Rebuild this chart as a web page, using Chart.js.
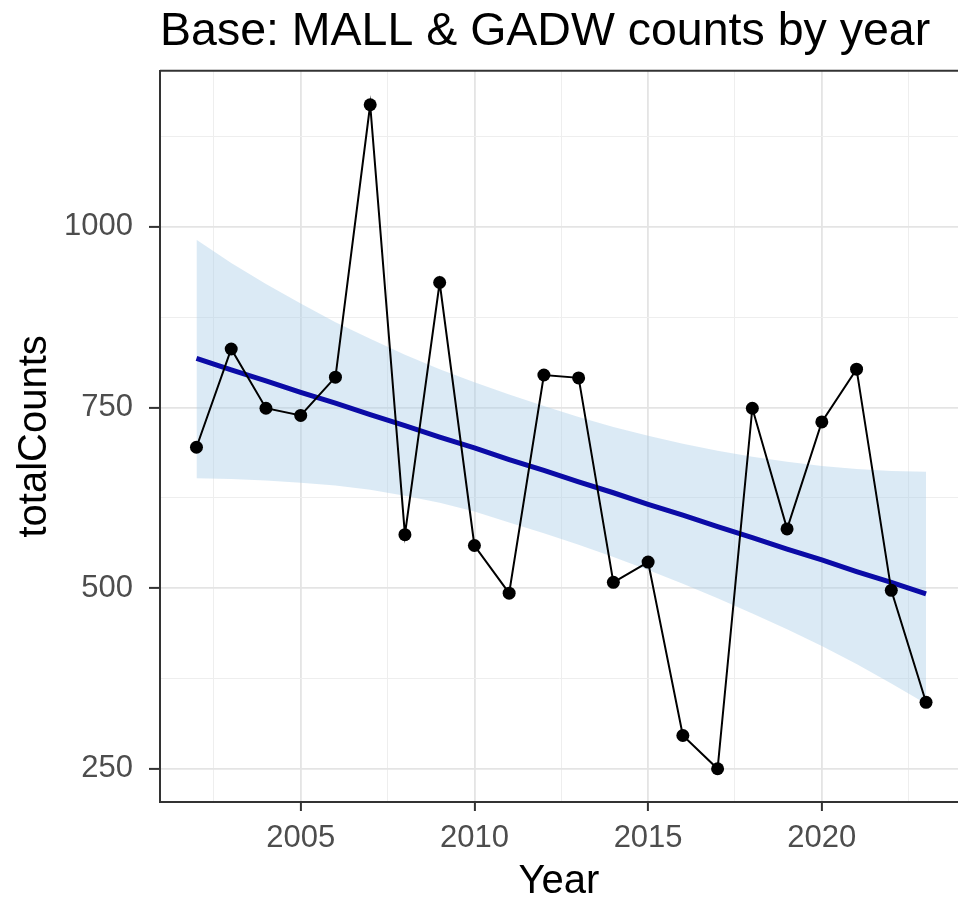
<!DOCTYPE html>
<html lang="en">
<head>
  <meta charset="UTF-8" />
  <title>Base: MALL &amp; GADW counts by year</title>
  <script src="https://cdn.jsdelivr.net/npm/chart.js"></script>
  <style>
    html, body { margin: 0; padding: 0; background: #fff; overflow: hidden; }
    #wrap { width: 958px; height: 904px; }
  </style>
</head>
<body>
<div id="wrap"><canvas id="chart" width="958" height="904"></canvas></div>

<script>
  // values
  const years = [2002, 2003, 2004, 2005, 2006, 2007, 2008, 2009, 2010, 2011, 2012,
                 2013, 2014, 2015, 2016, 2017, 2018, 2019, 2020, 2021, 2022, 2023];
  const totalCounts = [695, 831, 749, 739, 792, 1169, 574, 923, 559, 493, 795,
                       791, 508, 536, 296, 250, 749, 582, 730, 803, 497, 342];
  const trendFit = [818, 802, 787, 771, 756, 740, 725, 709, 694, 678, 663,
                    647, 632, 616, 601, 585, 570, 554, 539, 523, 508, 492];
  const bandUpper = [982, 950, 921, 894, 868, 845, 823, 803, 785, 768, 752,
                     737, 723, 711, 700, 690, 682, 675, 669, 665, 662, 661];
  const bandLower = [652, 651, 649, 646, 642, 636, 628, 618, 606, 591, 576,
                     560, 543, 525, 506, 486, 465, 443, 420, 395, 368, 340];
  const xTickLabels = [2005, 2010, 2015, 2020];
  const xGridValues = [2002.5, 2005, 2007.5, 2010, 2012.5, 2015, 2017.5, 2020, 2022.5];
  const yTickLabels = [250, 500, 750, 1000];
  const yGridValues = [250, 375, 500, 625, 750, 875, 1000, 1125];

  const toPts = vals => years.map((yr, i) => ({ x: yr, y: vals[i] }));

  const FONT = "'Liberation Sans', Arial, sans-serif";
  const AXIS_DARK = '#333333';
  const TICK_TEXT = '#4d4d4d';

  const isMajor = (v, list) => list.some(t => Math.abs(t - v) < 1e-6);
  const gridColor = list => ctx => isMajor(ctx.tick.value, list) ? '#e4e4e4' : '#eeeeee';
  const gridWidth = list => ctx => isMajor(ctx.tick.value, list) ? 1.8 : 1;
  const tickMarkColor = list => ctx => isMajor(ctx.tick.value, list) ? AXIS_DARK : 'rgba(0,0,0,0)';

  // top edge of the panel (R draws the full panel border)
  const topBorder = {
    id: 'topBorder',
    afterDraw(chart) {
      const { ctx, chartArea } = chart;
      ctx.save();
      ctx.strokeStyle = AXIS_DARK;
      ctx.lineWidth = 2;
      ctx.beginPath();
      ctx.moveTo(chartArea.left, chartArea.top);
      ctx.lineTo(chartArea.right, chartArea.top);
      ctx.stroke();
      ctx.restore();
    }
  };

  new Chart(document.getElementById('chart'), {
    type: 'line',
    data: {
      datasets: [
        {
          label: 'totalCounts',
          data: toPts(totalCounts),
          borderColor: '#000',
          borderWidth: 2,
          backgroundColor: '#000',
          pointRadius: 6.5,
          pointBorderWidth: 0,
          tension: 0,
          order: 0
        },
        {
          label: 'fit',
          data: toPts(trendFit),
          borderColor: '#0b0ba6',
          borderWidth: 5,
          pointRadius: 0,
          tension: 0,
          order: 1
        },
        {
          label: 'upper',
          data: toPts(bandUpper),
          borderWidth: 0,
          borderColor: 'rgba(0,0,0,0)',
          backgroundColor: 'rgba(170,205,230,0.42)',
          pointRadius: 0,
          fill: '+1',
          order: 2
        },
        {
          label: 'lower',
          data: toPts(bandLower),
          borderWidth: 0,
          borderColor: 'rgba(0,0,0,0)',
          pointRadius: 0,
          fill: false,
          order: 3
        }
      ]
    },
    options: {
      responsive: false,
      animation: false,
      devicePixelRatio: 1,
      layout: { padding: 0, autoPadding: false },
      plugins: {
        legend: { display: false },
        tooltip: { enabled: false },
        title: {
          display: true,
          text: 'Base: MALL & GADW counts by year',
          align: 'start',
          fullSize: false,
          color: '#000',
          font: { family: FONT, size: 46.5, weight: 'normal', lineHeight: 1.2 },
          padding: { top: 4, bottom: 11 }
        }
      },
      scales: {
        x: {
          type: 'linear',
          min: 2000.95,
          max: 2023.92,
          afterBuildTicks: s => { s.ticks = xGridValues.map(v => ({ value: v })); },
          afterFit: s => { s.height = 102; },
          border: { display: true, color: AXIS_DARK, width: 2 },
          grid: {
            color: gridColor(xTickLabels),
            lineWidth: gridWidth(xTickLabels),
            tickColor: tickMarkColor(xTickLabels),
            tickWidth: 2,
            tickLength: 9
          },
          ticks: {
            maxRotation: 0,
            autoSkip: false,
            padding: 9,
            color: TICK_TEXT,
            font: { family: FONT, size: 31 },
            callback: v => isMajor(v, xTickLabels) ? String(v) : ''
          },
          title: {
            display: true,
            text: 'Year',
            color: '#000',
            font: { family: FONT, size: 40, lineHeight: 1 },
            padding: { top: 0, bottom: 2 }
          }
        },
        y: {
          type: 'linear',
          min: 204,
          max: 1216,
          afterBuildTicks: s => { s.ticks = yGridValues.map(v => ({ value: v })); },
          afterFit: s => { s.width = 160; },
          border: { display: true, color: AXIS_DARK, width: 2 },
          grid: {
            color: gridColor(yTickLabels),
            lineWidth: gridWidth(yTickLabels),
            tickColor: tickMarkColor(yTickLabels),
            tickWidth: 2,
            tickLength: 11
          },
          ticks: {
            autoSkip: false,
            padding: 16,
            color: TICK_TEXT,
            font: { family: FONT, size: 31 },
            callback: v => isMajor(v, yTickLabels) ? String(v) : ''
          },
          title: {
            display: true,
            text: 'totalCounts',
            color: '#000',
            font: { family: FONT, size: 40, lineHeight: 1 },
            padding: { top: 15, bottom: 0 }
          }
        }
      }
    },
    plugins: [topBorder]
  });
</script>
</body>
</html>
